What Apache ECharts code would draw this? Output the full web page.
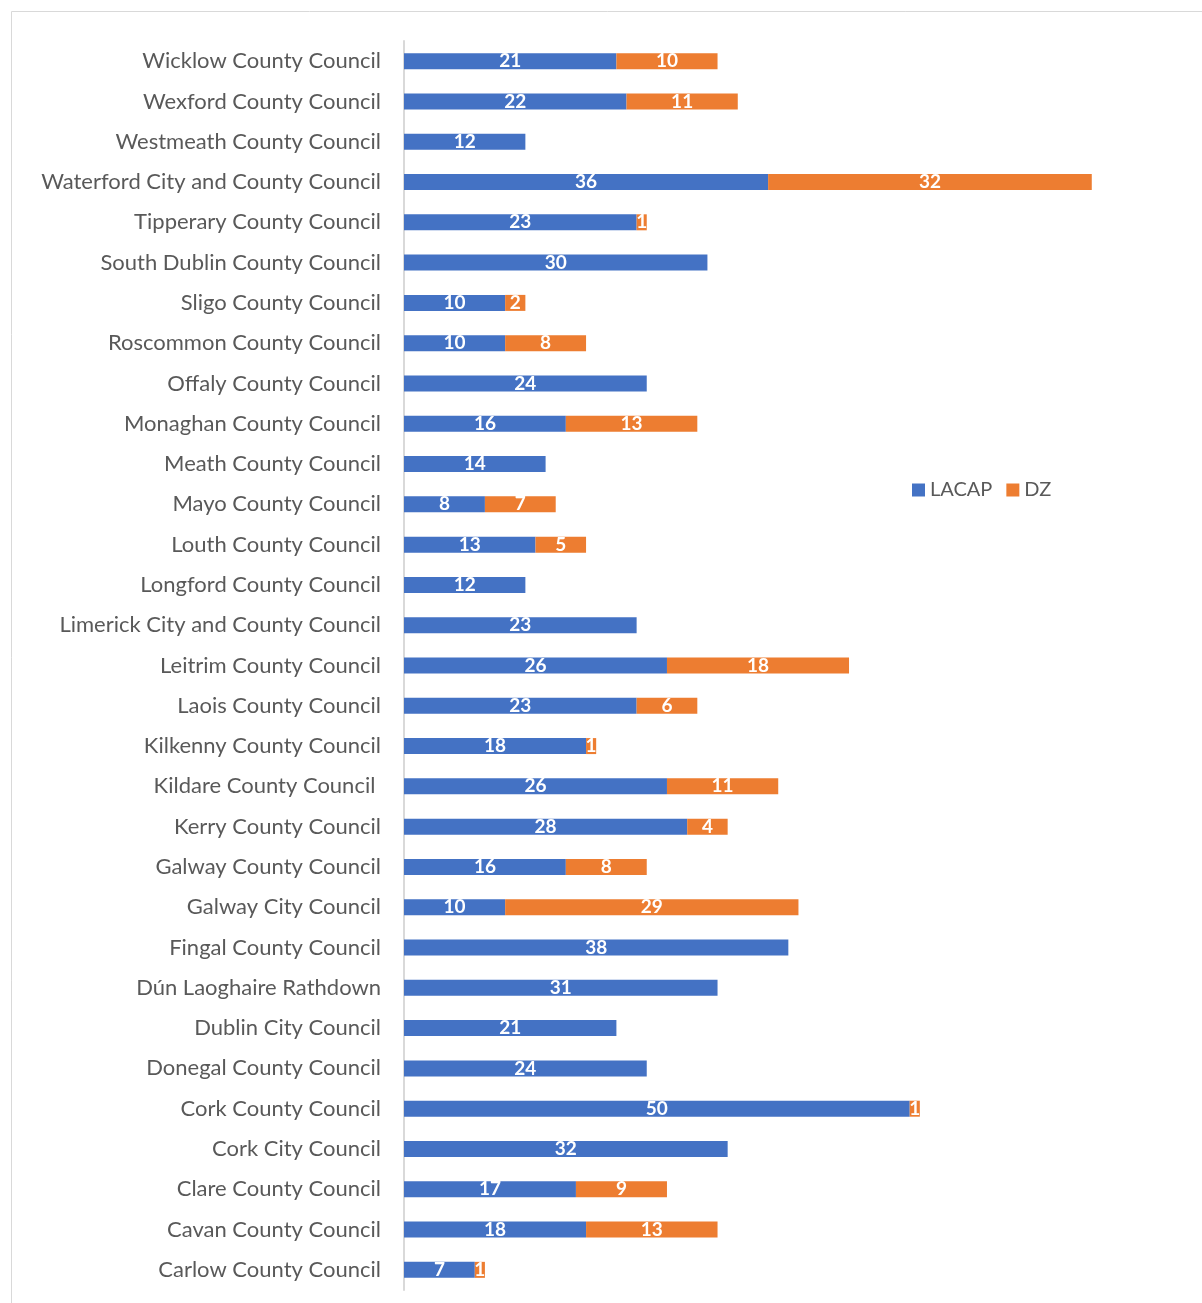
<!DOCTYPE html>
<html>
<head>
<meta charset="utf-8">
<script src="https://cdn.jsdelivr.net/npm/echarts@6/dist/echarts.min.js"></script>
<style>
    html, body { margin: 0; padding: 0; background: #fff; }
    #main { width: 1202px; height: 1303px; }
</style>
</head>
<body>
<div id="main"></div>
<script>
    // categories listed top to bottom, as in the picture
    var councils = [
        'Wicklow County Council', 'Wexford County Council', 'Westmeath County Council',
        'Waterford City and County Council', 'Tipperary County Council', 'South Dublin County Council',
        'Sligo County Council', 'Roscommon County Council', 'Offaly County Council',
        'Monaghan County Council', 'Meath County Council', 'Mayo County Council',
        'Louth County Council', 'Longford County Council', 'Limerick City and County Council',
        'Leitrim County Council', 'Laois County Council', 'Kilkenny County Council',
        'Kildare County Council ', 'Kerry County Council', 'Galway County Council',
        'Galway City Council', 'Fingal County Council', 'Dún Laoghaire Rathdown',
        'Dublin City Council', 'Donegal County Council', 'Cork County Council',
        'Cork City Council', 'Clare County Council', 'Cavan County Council',
        'Carlow County Council'
    ];
    var lacap = [21, 22, 12, 36, 23, 30, 10, 10, 24, 16, 14, 8, 13, 12, 23, 26, 23, 18,
        26, 28, 16, 10, 38, 31, 21, 24, 50, 32, 17, 18, 7];
    var dz = [10, 11, null, 32, 1, null, 2, 8, null, 13, null, 7, 5, null, null, 18, 6, 1,
        11, 4, 8, 29, null, null, null, null, 1, null, 9, 13, 1];

    var chart = echarts.init(document.getElementById('main'));
    var font = 'Lato, "Open Sans", sans-serif';
    var barLabel = {
        show: true,
        position: 'inside',
        color: '#fff',
        fontWeight: 'bold',
        fontSize: 19,
        fontFamily: font
    };

    var option = {
        animation: false,
        graphic: [{
            type: 'rect',
            shape: { x: 11.5, y: 11.5, width: 1300, height: 1400 },
            style: { fill: null, stroke: '#d9d9d9', lineWidth: 1 },
            silent: true
        }],
        legend: {
            left: 907,
            top: 475,
            itemWidth: 13,
            itemHeight: 13,
            itemGap: 14,
            icon: 'rect',
            textStyle: { color: '#595959', fontSize: 20, fontFamily: font },
            data: ['LACAP', 'DZ']
        },
        grid: {
            left: 404,
            right: 90,
            top: 41,
            bottom: 13,
            containLabel: false
        },
        xAxis: {
            type: 'value',
            min: 0,
            max: 70,
            show: false
        },
        yAxis: {
            type: 'category',
            inverse: true,
            data: councils,
            axisLine: { show: true, lineStyle: { color: '#d9d9d9', width: 2 } },
            axisTick: { show: false },
            axisLabel: {
                margin: 23,
                color: '#595959',
                fontSize: 22,
                fontFamily: font
            }
        },
        series: [{
            name: 'LACAP',
            type: 'bar',
            stack: 'total',
            barWidth: 16,
            itemStyle: { color: '#4472C4' },
            label: barLabel,
            data: lacap
        }, {
            name: 'DZ',
            type: 'bar',
            stack: 'total',
            barWidth: 16,
            itemStyle: { color: '#ED7D31' },
            label: barLabel,
            data: dz
        }]
    };
    chart.setOption(option);
</script>
</body>
</html>
